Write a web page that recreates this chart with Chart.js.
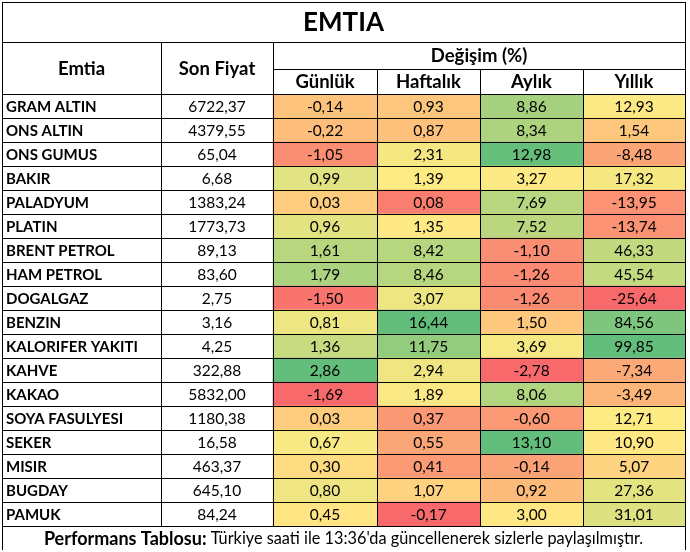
<!DOCTYPE html>
<html><head><meta charset="utf-8">
<script src="https://cdn.jsdelivr.net/npm/chart.js@4"></script>
<style>html,body{margin:0;padding:0;background:#fff;overflow:hidden}</style>
</head><body>
<canvas id="c" width="690" height="552"></canvas>
<script>
// ---- data ----
const title = 'EMTIA';
const colHeaders = ['Emtia', 'Son Fiyat'];
const groupHeader = 'Değişim (%)';
const changeHeaders = ['Günlük', 'Haftalık', 'Aylık', 'Yıllık'];
const commodities = ['GRAM ALTIN','ONS ALTIN','ONS GUMUS','BAKIR','PALADYUM','PLATIN','BRENT PETROL','HAM PETROL','DOGALGAZ','BENZIN','KALORIFER YAKITI','KAHVE','KAKAO','SOYA FASULYESI','SEKER','MISIR','BUGDAY','PAMUK'];
const prices   = [6722.37,4379.55,65.04,6.68,1383.24,1773.73,89.13,83.60,2.75,3.16,4.25,322.88,5832.00,1180.38,16.58,463.37,645.10,84.24];
const gunluk   = [-0.14,-0.22,-1.05,0.99,0.03,0.96,1.61,1.79,-1.50,0.81,1.36,2.86,-1.69,0.03,0.67,0.30,0.80,0.45];
const haftalik = [0.93,0.87,2.31,1.39,0.08,1.35,8.42,8.46,3.07,16.44,11.75,2.94,1.89,0.37,0.55,0.41,1.07,-0.17];
const aylik    = [8.86,8.34,12.98,3.27,7.69,7.52,-1.10,-1.26,-1.26,1.50,3.69,-2.78,8.06,-0.60,13.10,-0.14,0.92,3.00];
const yillik   = [12.93,1.54,-8.48,17.32,-13.95,-13.74,46.33,45.54,-25.64,84.56,99.85,-7.34,-3.49,12.71,10.90,5.07,27.36,31.01];
const footerBold = 'Performans Tablosu:';
const footerText = " Türkiye saati ile 13:36'da güncellenerek sizlerle paylaşılmıştır.";

// ---- layout / style ----
const changeSeries = [gunluk, haftalik, aylik, yillik];
const COL_EDGES = [0, 159, 271, 375, 478, 581, 683]; // x-scale units
const TITLE_H = 40, HEAD1_H = 27, HEAD2_H = 25, FOOT_H = 24;
const FONT = 'Lato, "Open Sans", sans-serif';
const RED = [248,105,107], YEL = [255,235,132], GRN = [99,190,123];

function percentile50(arr){
  const s = [...arr].sort((a,b)=>a-b); const n=s.length;
  const p = 0.5*(n-1); const lo=Math.floor(p), hi=Math.ceil(p);
  return s[lo] + (s[hi]-s[lo])*(p-lo);
}
function mix(a,b,t){ return 'rgb('+a.map((v,i)=>Math.round(v+(b[i]-v)*t)).join(',')+')'; }
function scaleColor(arr, v){
  const mn=Math.min(...arr), mx=Math.max(...arr), md=percentile50(arr);
  if (v <= md) return mix(RED, YEL, md===mn?1:(v-mn)/(md-mn));
  return mix(YEL, GRN, mx===md?0:(v-md)/(mx-md));
}
const fmt = v => v.toFixed(2).replace('.', ',');

const datasets = changeSeries.map((series, c) => ({
  label: changeHeaders[c],
  data: series.map(() => [COL_EDGES[c+2], COL_EDGES[c+3]]),
  backgroundColor: ctx => scaleColor(series, series[ctx.dataIndex]),
  borderWidth: 0,
  grouped: false,
  categoryPercentage: 1,
  barPercentage: 1
}));

const tablePlugin = {
  id: 'table',
  afterDatasetsDraw(chart) {
    const ctx = chart.ctx, xs = chart.scales.x, ys = chart.scales.y, ca = chart.chartArea;
    const n = commodities.length, rowH = (ca.bottom - ca.top) / n;
    const X = i => Math.round(xs.getPixelForValue(COL_EDGES[i]));
    const top = ca.top - HEAD2_H - HEAD1_H - TITLE_H;
    const yTitle = top + TITLE_H, yHead1 = yTitle + HEAD1_H, yHead2 = ca.top;
    const bottom = ca.bottom + FOOT_H;
    ctx.save();
    ctx.fillStyle = '#000';
    ctx.textBaseline = 'middle';
    // cells text
    for (let i = 0; i < n; i++) {
      const cy = ys.getPixelForValue(i) + 1;
      ctx.font = 'bold 15px ' + FONT; ctx.textAlign = 'left';
      ctx.fillText(commodities[i], X(0) + 4, cy);
      ctx.font = '15.5px ' + FONT; ctx.textAlign = 'center';
      ctx.fillText(fmt(prices[i]), (X(1)+X(2))/2, cy);
      changeSeries.forEach((s, c) => ctx.fillText(fmt(s[i]), (X(c+2)+X(c+3))/2, cy));
    }
    // headers
    ctx.textAlign = 'center';
    ctx.font = 'bold 26px ' + FONT;
    ctx.fillText(title, (X(0)+X(6))/2, top + TITLE_H/2 + 1);
    ctx.font = 'bold 18.5px ' + FONT;
    ctx.fillText(colHeaders[0], (X(0)+X(1))/2, (yTitle+yHead2)/2 + 1);
    ctx.fillText(colHeaders[1], (X(1)+X(2))/2, (yTitle+yHead2)/2 + 1);
    ctx.fillText(groupHeader, (X(2)+X(6))/2, (yTitle+yHead1)/2 + 1);
    changeHeaders.forEach((h, c) => ctx.fillText(h, (X(c+2)+X(c+3))/2, (yHead1+yHead2)/2 + 1));
    // footer
    const fb = 'bold 18px ' + FONT, fr = '16.3px ' + FONT;
    ctx.font = fb; const wb = ctx.measureText(footerBold).width;
    ctx.font = fr; const wr = ctx.measureText(footerText).width;
    let fx = (X(0)+X(6))/2 - (wb+wr)/2, fy = ca.bottom + 13;
    ctx.textAlign = 'left';
    ctx.font = fb; ctx.fillText(footerBold, fx, fy);
    ctx.font = fr; ctx.fillText(footerText, fx + wb, fy);
    // grid lines
    ctx.strokeStyle = '#000'; ctx.lineWidth = 1;
    const h = (x1,x2,y) => { ctx.beginPath(); ctx.moveTo(x1, Math.round(y)+0.5); ctx.lineTo(x2, Math.round(y)+0.5); ctx.stroke(); };
    const v = (x,y1,y2) => { ctx.beginPath(); ctx.moveTo(Math.round(x)+0.5, y1); ctx.lineTo(Math.round(x)+0.5, y2); ctx.stroke(); };
    h(X(0), X(6)+1, top); h(X(0), X(6)+1, yTitle); h(X(2), X(6)+1, yHead1);
    for (let i = 0; i <= n; i++) h(X(0), X(6)+1, ca.top + i*rowH);
    v(X(0), top, bottom); v(X(6), top, bottom);
    v(X(1), yTitle, ca.bottom); v(X(2), yTitle, ca.bottom);
    for (let c = 3; c <= 5; c++) v(X(c), yHead1, ca.bottom);
    ctx.restore();
  }
};

new Chart(document.getElementById('c'), {
  type: 'bar',
  data: { labels: commodities, datasets },
  options: {
    indexAxis: 'y',
    responsive: false,
    animation: false,
    layout: { padding: { left: 2, right: 5, top: 94, bottom: 26 } },
    scales: {
      x: { type: 'linear', min: COL_EDGES[0], max: COL_EDGES[COL_EDGES.length-1], display: false },
      y: { type: 'category', display: false, offset: true }
    },
    plugins: { legend: { display: false }, tooltip: { enabled: false } }
  },
  plugins: [tablePlugin]
});
</script>
</body></html>
